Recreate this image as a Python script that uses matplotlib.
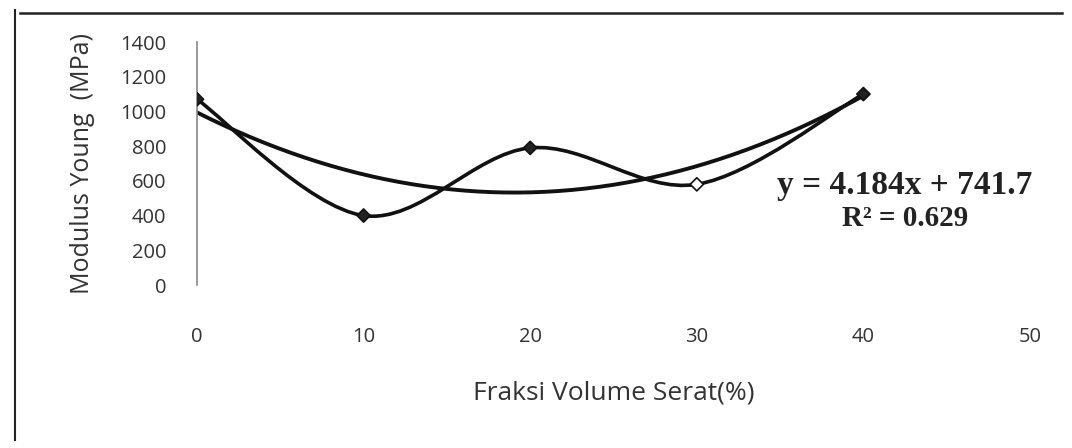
import numpy as np
import matplotlib
matplotlib.use("Agg")
import matplotlib.pyplot as plt
from matplotlib.path import Path
from matplotlib.patches import PathPatch
from matplotlib.lines import Line2D

# ---- data ----
fraksi = [0, 10, 20, 30, 40]
modulus = [1070, 400, 790, 580, 1100]
x_ticks = [0, 10, 20, 30, 40, 50]
y_ticks = [0, 200, 400, 600, 800, 1000, 1200, 1400]
eq_text = "y = 4.184x + 741.7"
r2_text = "R² = 0.629"
x_label = "Fraksi Volume Serat(%)"
y_label = "Modulus Young  (MPa)"

plt.rcParams['font.family'] = ['Open Sans', 'DejaVu Sans']

fig = plt.figure(figsize=(10.72, 4.48), dpi=100)
ax = fig.add_axes([197/1072, 1-285/448, (1030-197)/1072, (285-42)/448])
ax.set_xlim(0, 50)
ax.set_ylim(0, 1400)

# smoothed data line (Excel-like Bezier smoothing)
xs = np.array(fraksi, float); ys = np.array(modulus, float)
verts = [(xs[0], ys[0])]; codes = [Path.MOVETO]
n = len(xs)
for i in range(n - 1):
    p0 = np.array([xs[max(i-1, 0)], ys[max(i-1, 0)]])
    p1 = np.array([xs[i], ys[i]])
    p2 = np.array([xs[i+1], ys[i+1]])
    p3 = np.array([xs[min(i+2, n-1)], ys[min(i+2, n-1)]])
    c1 = p1 + (p2 - p0) / 6
    c2 = p2 - (p3 - p1) / 6
    verts += [tuple(c1), tuple(c2), tuple(p2)]
    codes += [Path.CURVE4] * 3
ax.add_patch(PathPatch(Path(verts, codes), fill=False, edgecolor='#111111', lw=2.6))
faces = ['#222222', '#222222', '#222222', 'white', '#222222']
ax.scatter(fraksi, modulus, marker='D', s=45, c=faces, edgecolors='#111111',
           linewidths=1.2, zorder=3)

# polynomial trend line
coef = np.polyfit(fraksi, modulus, 2)
xt = np.linspace(0, 40, 200)
ax.plot(xt, np.polyval(coef, xt), color='#111111', lw=2.8)

ax.set_xticks(x_ticks)
ax.set_yticks(y_ticks)
ax.tick_params(axis='both', length=0, labelsize=14.5, labelcolor='#333333')
ax.tick_params(axis='x', pad=30)
ax.tick_params(axis='y', pad=22)
for s in ['top', 'right', 'bottom']:
    ax.spines[s].set_visible(False)
ax.spines['left'].set_color('#888888')
ax.spines['left'].set_linewidth(1.2)

ax.set_xlabel(x_label, fontsize=19, color='#333333', labelpad=24)
ax.set_ylabel(y_label, fontsize=18, color='#333333', labelpad=18)

ax.text(0.85, 0.41, eq_text, transform=ax.transAxes, ha='center', va='center',
        fontsize=24, fontweight='bold', family=['Liberation Serif'], color='#222222')
ax.text(0.85, 0.275, r2_text, transform=ax.transAxes, ha='center', va='center',
        fontsize=21, fontweight='bold', family=['Liberation Serif'], color='#222222')

# chart area border fragments (top and left)
fig.add_artist(Line2D([20/1072, 1062/1072], [1-13/448, 1-13/448], transform=fig.transFigure,
                      color='#222222', lw=1.8))
fig.add_artist(Line2D([15/1072, 15/1072], [1-10/448, 1-440/448], transform=fig.transFigure,
                      color='#222222', lw=1.5))

fig.savefig("out.png", dpi=100, facecolor='white')
